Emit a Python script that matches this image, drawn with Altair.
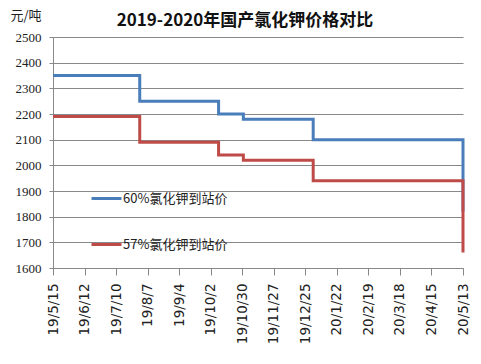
import altair as alt
import pandas as pd

# data
dates = ["2019-05-15", "2019-07-31", "2019-10-09", "2019-10-31", "2020-01-01", "2020-05-12", "2020-05-13"]
price_60 = [2350, 2250, 2200, 2180, 2100, 2100, 1820]
price_57 = [2190, 2090, 2040, 2020, 1940, 1940, 1660]
series_names = ["60%氯化钾到站价", "57%氯化钾到站价"]
tick_dates = ["2019-05-15", "2019-06-12", "2019-07-10", "2019-08-07", "2019-09-04", "2019-10-02",
              "2019-10-30", "2019-11-27", "2019-12-25", "2020-01-22", "2020-02-19", "2020-03-18",
              "2020-04-15", "2020-05-13"]
y_ticks = [1600, 1700, 1800, 1900, 2000, 2100, 2200, 2300, 2400, 2500]

rows = []
for d, v in zip(dates, price_60):
    rows.append({"date": d, "price": v, "series": series_names[0]})
for d, v in zip(dates, price_57):
    rows.append({"date": d, "price": v, "series": series_names[1]})
df = pd.DataFrame(rows)


def dt(s):
    y, m, d = (int(p) for p in s.split("-"))
    return alt.DateTime(year=y, month=m, date=d, utc=True)


chart = (
    alt.Chart(df)
    .mark_line(interpolate="step-after", strokeWidth=3)
    .encode(
        x=alt.X(
            "date:T",
            scale=alt.Scale(type="utc", domain=[dt(tick_dates[0]), dt(tick_dates[-1])]),
            axis=alt.Axis(
                values=[dt(s) for s in tick_dates],
                format="%y/%-m/%-d",
                labelAngle=270,
                title=None,
                grid=False,
                domainColor="#888888",
                tickColor="#888888",
                tickSize=7,
                labelPadding=8,
                labelFont="DejaVu Sans",
                labelFontSize=13.5,
                labelColor="#222222",
            ),
        ),
        y=alt.Y(
            "price:Q",
            scale=alt.Scale(domain=[1600, 2500], nice=False, zero=False),
            axis=alt.Axis(
                values=y_ticks,
                format="d",
                title="元/吨",
                titleAngle=0,
                titleX=-43,
                titleY=-22,
                titleAlign="left",
                titleBaseline="middle",
                titleFont="Noto Sans CJK SC",
                titleFontSize=13,
                titleFontWeight="normal",
                titleColor="#222222",
                gridColor="#888888",
                gridWidth=1,
                domainColor="#888888",
                tickColor="#888888",
                tickSize=4,
                labelPadding=8,
                labelFont="Liberation Sans Narrow",
                labelFontSize=13,
                labelColor="#222222",
            ),
        ),
        color=alt.Color(
            "series:N",
            scale=alt.Scale(domain=series_names, range=["#4A7EBB", "#BE4B48"]),
            legend=alt.Legend(
                title=None,
                orient="none",
                legendX=37,
                legendY=145,
                symbolType="stroke",
                symbolStrokeWidth=3,
                symbolSize=900,
                rowPadding=22,
                labelFont="Noto Sans CJK SC",
                labelFontSize=13,
                labelColor="#222222",
                labelOffset=0,
            ),
        ),
    )
    .properties(
        width=410,
        height=231,
        title=alt.TitleParams(
            "2019-2020年国产氯化钾价格对比",
            font="Noto Sans CJK SC",
            fontSize=17,
            fontWeight="bold",
            color="#111111",
            anchor="middle",
            dx=-13,
            dy=29,
            offset=8,
        ),
        autosize=alt.AutoSizeParams(type="none"),
        padding={"left": 45, "top": 29, "right": 10, "bottom": 88},
    )
    .configure_view(stroke=None)
)

chart.save("out.html", embed_options={"renderer": "svg", "actions": False})
